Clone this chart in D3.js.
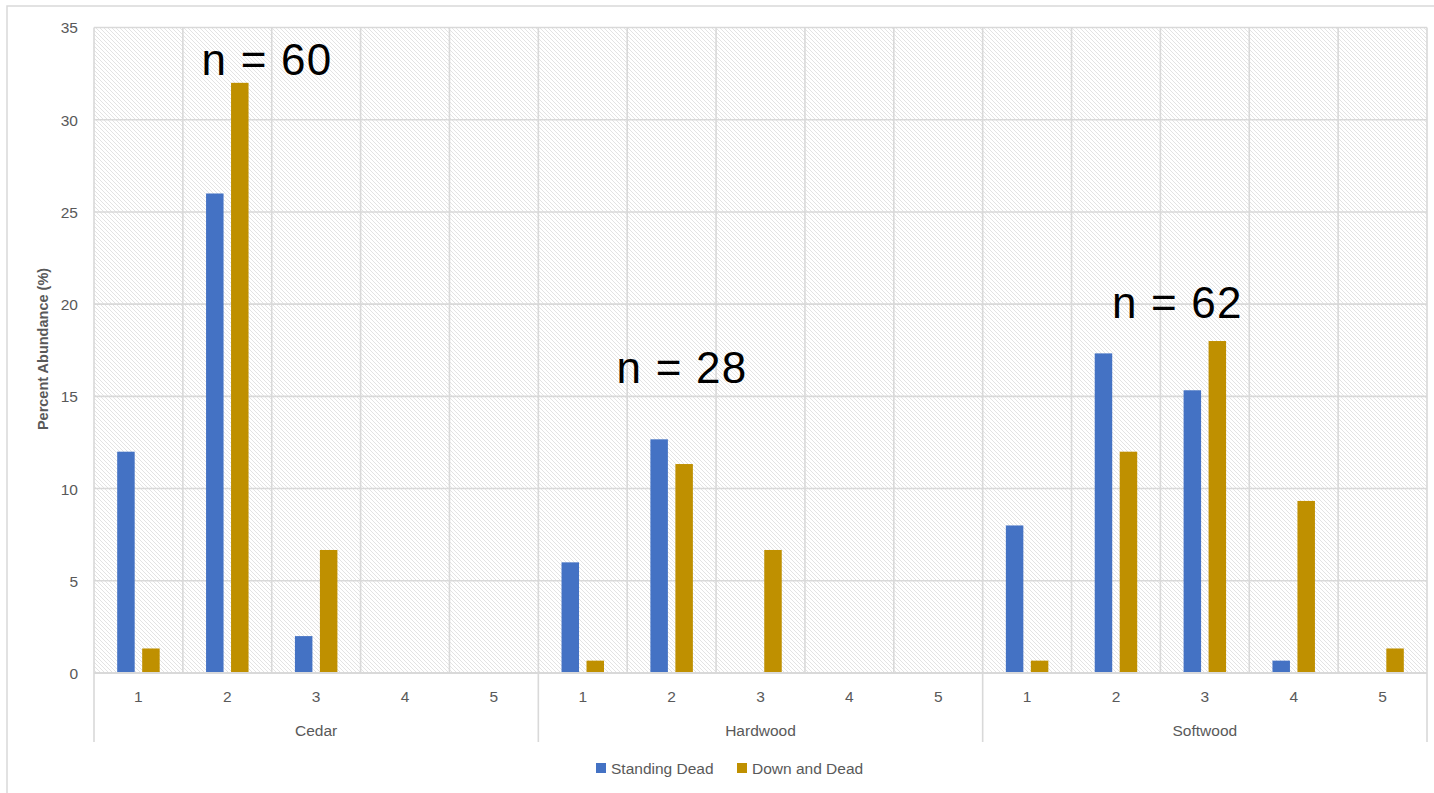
<!DOCTYPE html>
<html>
<head>
<meta charset="utf-8">
<script src="https://cdn.jsdelivr.net/npm/d3@7"></script>
<style>
  html, body { margin: 0; padding: 0; background: #fff; }
  svg { display: block; }
</style>
</head>
<body>
<svg id="chart" width="1434" height="793"></svg>
<script>
// ---- data ----
const groups = ["Cedar", "Hardwood", "Softwood"];
const classes = ["1", "2", "3", "4", "5"];
const seriesNames = ["Standing Dead", "Down and Dead"];
const standingDead = [12, 26, 2, 0, 0,   6, 12.67, 0, 0, 0,   8, 17.33, 15.33, 0.67, 0];
const downAndDead  = [1.33, 32, 6.67, 0, 0,   0.67, 11.33, 6.67, 0, 0,   0.67, 12, 18, 9.33, 1.33];
const yTicks = [0, 5, 10, 15, 20, 25, 30, 35];
const annotations = [
  { text: "n = 60", pos: 1.946, y: 32.4 },
  { text: "n = 28", pos: 6.616, y: 15.7 },
  { text: "n = 62", pos: 12.19, y: 19.23 }
];
const colors = ["#4472C4", "#BF9000"];

// ---- layout ----
const svg = d3.select("#chart");
const plotL = 94, plotR = 1427, plotT = 27.5, plotB = 673;
const grid = "#d9d9d9", textCol = "#595959";
const font = "'Liberation Sans', Arial, sans-serif";

const keys = [];
groups.forEach(g => classes.forEach(c => keys.push(g + "|" + c)));

const x0 = d3.scaleBand().domain(keys).range([plotL, plotR]).padding(0);
const x1 = d3.scaleBand().domain(seriesNames).range([0, x0.bandwidth()])
  .paddingInner(0.3).paddingOuter(0.928);
const xg = d3.scaleBand().domain(groups).range([plotL, plotR]).padding(0);
const y = d3.scaleLinear().domain([0, 35]).range([plotB, plotT]);
const xPos = d3.scaleLinear().domain([0, keys.length]).range([plotL, plotR]);

// outer border
svg.append("rect").attr("x", 7).attr("y", 6).attr("width", 1440).attr("height", 800)
  .attr("fill", "#fff").attr("stroke", grid).attr("stroke-width", 1.5);

// hatch pattern
const defs = svg.append("defs");
const pat = defs.append("pattern").attr("id", "hatch")
  .attr("patternUnits", "userSpaceOnUse").attr("width", 4).attr("height", 4);
pat.append("rect").attr("width", 4).attr("height", 4).attr("fill", "#fff");
pat.append("path").attr("d", "M-1,-1 L5,5 M-1,3 L1,5 M3,-1 L5,1")
  .attr("stroke", "#e0e0e0").attr("stroke-width", 0.9);

svg.append("rect").attr("x", plotL).attr("y", plotT).attr("width", plotR - plotL)
  .attr("height", plotB - plotT).attr("fill", "url(#hatch)");

// horizontal gridlines
svg.append("g").selectAll("line").data(yTicks).join("line")
  .attr("x1", plotL).attr("x2", plotR)
  .attr("y1", d => y(d)).attr("y2", d => y(d))
  .attr("stroke", grid).attr("stroke-width", 1.6);

// vertical gridlines between subcategories
const vLines = keys.map(k => x0(k)).concat([plotR]);
svg.append("g").selectAll("line").data(vLines).join("line")
  .attr("x1", d => d).attr("x2", d => d)
  .attr("y1", plotT).attr("y2", plotB)
  .attr("stroke", grid).attr("stroke-width", 1.6);

// group separators below axis
const gLines = groups.map(g => xg(g)).concat([plotR]);
svg.append("g").selectAll("line").data(gLines).join("line")
  .attr("x1", d => d).attr("x2", d => d)
  .attr("y1", plotB).attr("y2", 742)
  .attr("stroke", grid).attr("stroke-width", 1.6);

// y axis tick labels
const yAxis = d3.axisLeft(y).tickValues(yTicks).tickSize(0).tickPadding(0);
const yg = svg.append("g").attr("transform", `translate(78,0)`).call(yAxis);
yg.select(".domain").remove();
yg.selectAll("text").attr("font-family", font).attr("font-size", 15.5)
  .attr("fill", textCol).attr("dy", "0.35em");

// bars
const series = [standingDead, downAndDead];
series.forEach((vals, si) => {
  svg.append("g").selectAll("rect").data(keys.map((k, i) => ({ k, v: vals[i] })).filter(d => d.v > 0))
    .join("rect")
    .attr("x", d => x0(d.k) + x1(seriesNames[si]))
    .attr("width", x1.bandwidth())
    .attr("y", d => y(d.v))
    .attr("height", d => y(0) - y(d.v))
    .attr("fill", colors[si]);
});

// bottom axis line
svg.append("line").attr("x1", plotL).attr("x2", plotR).attr("y1", plotB).attr("y2", plotB)
  .attr("stroke", grid).attr("stroke-width", 2);

// class tick labels
const xAxis = d3.axisBottom(x0).tickSize(0).tickPadding(0).tickFormat(k => k.split("|")[1]);
const xa = svg.append("g").attr("transform", `translate(0,702)`).call(xAxis);
xa.select(".domain").remove();
xa.selectAll("text").attr("font-family", font).attr("font-size", 15.5)
  .attr("fill", textCol).attr("dy", 0);

// group labels
svg.append("g").selectAll("text").data(groups).join("text")
  .attr("x", g => xg(g) + xg.bandwidth() / 2).attr("y", 736)
  .attr("text-anchor", "middle").attr("font-family", font).attr("font-size", 15.5)
  .attr("fill", textCol).text(g => g);

// y axis title
svg.append("text")
  .attr("transform", `translate(48,349) rotate(-90)`)
  .attr("text-anchor", "middle").attr("font-family", font)
  .attr("font-size", 14.5).attr("font-weight", "bold").attr("fill", textCol)
  .text("Percent Abundance (%)");

// annotations
svg.append("g").selectAll("text").data(annotations).join("text")
  .attr("x", d => xPos(d.pos)).attr("y", d => y(d.y))
  .attr("text-anchor", "middle").attr("font-family", font)
  .attr("font-size", 44).attr("letter-spacing", 1.2).attr("fill", "#000").text(d => d.text);

// legend
const legX = [596, 737];
const leg = svg.append("g").selectAll("g").data(seriesNames).join("g")
  .attr("transform", (d, i) => `translate(${legX[i]},763)`);
leg.append("rect").attr("width", 10).attr("height", 10).attr("fill", (d, i) => colors[i]);
leg.append("text").attr("x", 15).attr("y", 11).attr("font-family", font)
  .attr("font-size", 15.5).attr("fill", textCol).text(d => d);
</script>
</body>
</html>
